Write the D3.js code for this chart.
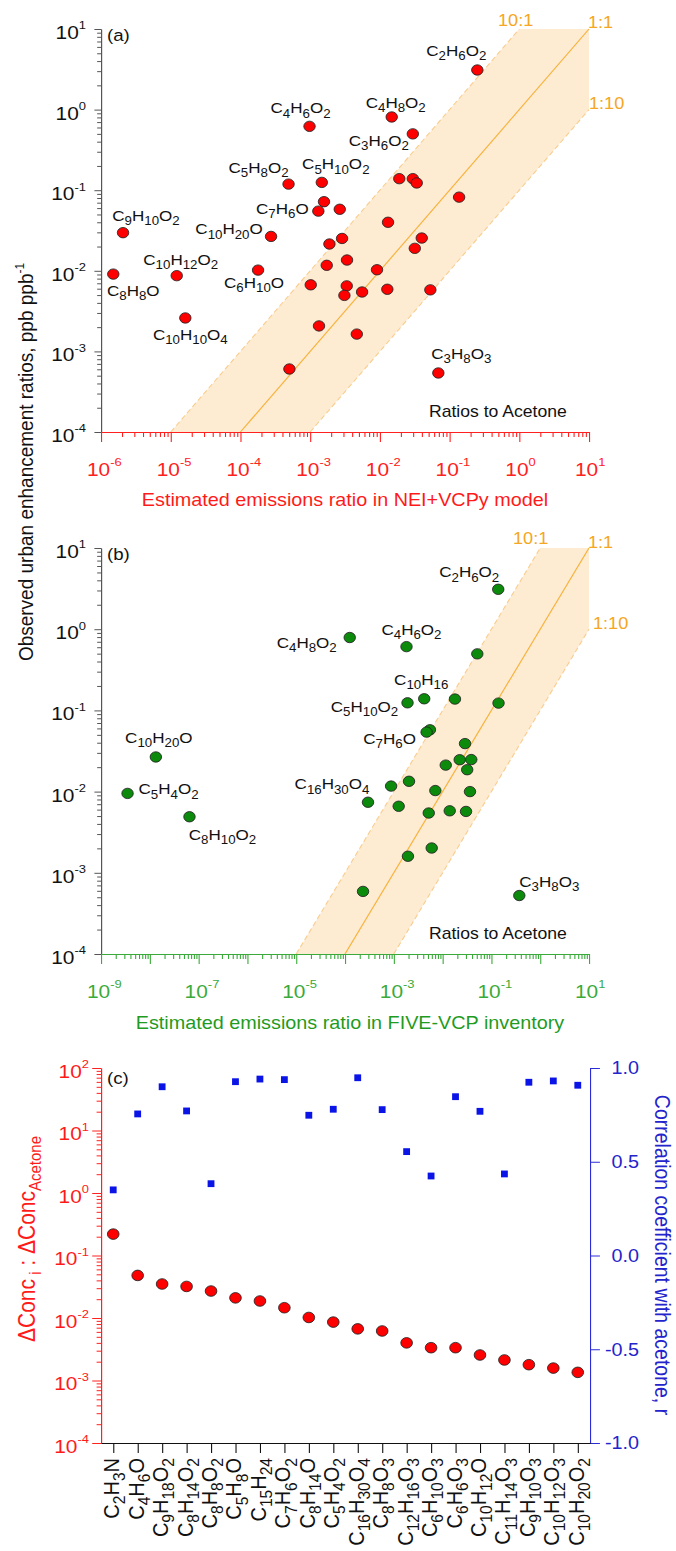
<!DOCTYPE html>
<html>
<head>
<meta charset="utf-8">
<script src="https://cdn.jsdelivr.net/npm/d3@7"></script>
<style>
  body { margin: 0; background: #fff; }
  svg text { font-family: "Liberation Sans", Arial, sans-serif; }
</style>
</head>
<body>
<svg id="chart" width="676" height="1551"></svg>
<script>
// ---- data ------------------------------------------------------------

// (a) NEI+VCPy model vs observed ratios to acetone
var namesA = ['C2H6O2', 'C4H8O2', 'C3H6O2', 'C4H6O2', 'C5H8O2', 'C5H10O2', '', '', '', '', '',
  'C7H6O', '', '', '', '', '', '', '', '', '', '', '', '', '', '', '', '', '', '',
  'C3H8O3', 'C9H10O2', 'C10H20O', 'C8H8O', 'C10H12O2', 'C6H10O', 'C10H10O4'];
var emisA = [0.25, 0.0148, 0.0297, 9.8e-4, 4.9e-4, 1.47e-3, 0.019, 0.0297, 0.0338, 0.137, 1.58e-3,
  1.31e-3, 2.66e-3, 0.0131, 2.87e-3, 1.89e-3, 0.0399, 0.0317, 3.38e-3, 1.73e-3, 9.1e-3, 1.02e-3,
  3.35e-3, 3.1e-3, 5.56e-3, 0.0128, 0.053, 1.34e-3, 4.67e-3, 5.04e-4,
  0.069, 2.07e-6, 2.75e-4, 1.5e-6, 1.22e-5, 1.79e-4, 1.62e-5];
var obsA = [3.1, 0.81, 0.50, 0.62, 0.119, 0.125, 0.139, 0.139, 0.123, 0.082, 0.072,
  0.055, 0.058, 0.040, 0.0252, 0.0215, 0.0255, 0.019, 0.0136, 0.0117, 0.0103, 6.7e-3,
  6.5e-3, 4.95e-3, 5.46e-3, 5.9e-3, 5.8e-3, 2.07e-3, 1.64e-3, 6.05e-4,
  5.4e-4, 0.0297, 0.0267, 9.1e-3, 8.7e-3, 0.0102, 2.6e-3];

// (b) FIVE-VCP inventory vs observed ratios to acetone
var namesB = ['C2H6O2', 'C4H8O2', 'C4H6O2', '', 'C5H10O2', 'C10H16', '', '', '', 'C7H6O',
  '', '', '', '', '', '', '', '', '', 'C16H30O4', '', '', '', '', '', '', '',
  'C3H8O3', 'C10H20O', 'C5H4O2', 'C8H10O2'];
var emisB = [0.138, 1.25e-4, 1.82e-3, 0.0514, 1.91e-3, 4.2e-3, 0.0179, 0.14, 5.5e-3, 4.7e-3,
  0.0288, 0.0116, 0.0224, 0.0387, 0.0319, 8.8e-4, 2.05e-3, 7.1e-3, 0.0364, 2.96e-4, 1.26e-3,
  5.2e-3, 0.014, 0.0302, 5.98e-3, 1.95e-3, 2.34e-4, 0.373, 1.33e-8, 3.5e-9, 6.5e-8];
var obsB = [3.1, 0.79, 0.61, 0.497, 0.124, 0.139, 0.138, 0.123, 0.0577, 0.054,
  0.039, 0.0212, 0.0247, 0.0248, 0.0186, 0.0117, 0.0134, 0.0103, 0.01, 7.4e-3, 6.6e-3,
  5.45e-3, 5.8e-3, 5.7e-3, 2.02e-3, 1.6e-3, 5.9e-4, 5.25e-4, 0.0267, 9.5e-3, 4.9e-3];

// (c) enhancement ratio and correlation with acetone
var compoundsC = ['C2H3N', 'C4H6O', 'C9H18O2', 'C8H14O2', 'C8H8O2', 'C5H8O', 'C15H24', 'C7H6O2',
  'C8H14O', 'C5H4O2', 'C16H30O4', 'C8H8O3', 'C12H16O3', 'C6H10O3', 'C6H6O3', 'C10H12O',
  'C11H14O3', 'C9H10O3', 'C10H12O3', 'C10H20O2'];
var ratioC = [0.22, 0.048, 0.035, 0.032, 0.027, 0.021, 0.0187, 0.0146, 0.0102, 0.0086,
  0.0067, 0.0062, 0.0040, 0.00335, 0.00335, 0.00256, 0.00213, 0.00179, 0.00158, 0.00135];
var corrC = [0.35, 0.755, 0.90, 0.771, 0.383, 0.927, 0.941, 0.938, 0.748, 0.78,
  0.948, 0.778, 0.554, 0.424, 0.847, 0.769, 0.435, 0.924, 0.931, 0.908];

var ratioLines = [10, 1, 0.1];  // 10:1, 1:1, 1:10

// label offsets from their point, in screen px
var labelPosA = {
  C2H6O2: [-21, -14], C4H8O2: [4, -9], C3H6O2: [-34, 12], C4H6O2: [-9, -13],
  C5H8O2: [-30, -11], C5H10O2: [14, -13], C7H6O: [-36, 3], C9H10O2: [23, -12],
  C10H20O: [-42, -2], C10H12O2: [4, -11], C8H8O: [20, 22], C6H10O: [-4, 18],
  C10H10O4: [5, 22], C3H8O3: [23, -14]
};
var labelPosB = {
  C2H6O2: [-29, -12], C4H8O2: [-43, 10], C4H6O2: [5, -12], C10H16: [-3, -14],
  C5H10O2: [-43, 9], C7H6O: [-37, 12], C16H30O4: [-36, -13], C10H20O: [3, -14],
  C5H4O2: [41, 1], C8H10O2: [33, 23], C3H8O3: [30, -9]
};


/* ---
SETUP
--- */
// the original figure is stretched sideways; draw in narrower units and scale back
var STRETCH = 1.1;
function hx(v) { return v / STRETCH; }

var svg = d3.select('#chart');
var root = svg.append('g').attr('transform', 'scale(' + STRETCH + ',1)');

var ORANGE = '#f5a623';

function decadeValues(lo, hi) {
  var out = [];
  for (var e = lo; e <= hi; e++) out.push(Math.pow(10, e));
  return out;
}

function minorValues(lo, hi) {
  var out = [];
  for (var e = lo; e < hi; e++)
    for (var k = 2; k < 10; k++) out.push(k * Math.pow(10, e));
  return out;
}

// digits in a formula become subscripts
function formula(t, str, size) {
  var shifted = false;
  str.match(/[A-Za-z]+|\d+/g).forEach(function(p) {
    var s = t.append('tspan').text(p);
    if (/\d/.test(p)) {
      s.attr('font-size', size * 0.78);
      if (!shifted) s.attr('dy', size * 0.28);
      shifted = true;
    } else {
      s.attr('font-size', size);
      if (shifted) s.attr('dy', -size * 0.28);
      shifted = false;
    }
  });
}

function pow10(t, e, size) {
  t.append('tspan').text('10');
  t.append('tspan').attr('dy', -size * 0.5).attr('font-size', size * 0.62).text(e);
}

function logAxis(g, axisFn, scale, lo, hi, major, minor, color) {
  g.append('g').call(axisFn(scale).tickValues(minorValues(lo, hi))
    .tickSize(minor).tickSizeOuter(0).tickFormat(''));
  g.append('g').call(axisFn(scale).tickValues(decadeValues(lo, hi))
    .tickSize(major).tickSizeOuter(0).tickFormat(''));
  g.selectAll('path, line').attr('stroke', color);
}


/* -----------
SCATTER PANELS
----------- */
function drawScatter(p) {
  var g = root.append('g');
  var x = d3.scaleLog().domain([Math.pow(10, p.xLo), 10]).range([hx(101), hx(589)]);
  var y = d3.scaleLog().domain([1e-4, 10]).range([p.bottom, p.top]);
  var line = d3.line().x(function(d) { return x(d[0]); }).y(function(d) { return y(d[1]); });

  // shaded band between 10:1 and 1:10
  var band = [[1e-4 / 10, 1e-4], [10 / 10, 10], [10, 10], [10, 10 * 0.1], [1e-4 / 0.1, 1e-4]];
  g.append('path').datum(band).attr('d', line.curve(d3.curveLinearClosed)).attr('fill', '#fdebd2');
  line.curve(d3.curveLinear);

  ratioLines.forEach(function(k) {
    var pts = [[1e-4 / k, 1e-4], k >= 1 ? [10 / k, 10] : [10, 10 * k]];
    g.append('path').datum(pts).attr('d', line)
      .attr('fill', 'none')
      .attr('stroke', k === 1 ? '#f7b23b' : '#f9cc8c')
      .attr('stroke-width', k === 1 ? 1.1 : 1)
      .attr('stroke-dasharray', k === 1 ? null : '5,3');
  });

  // axes
  var ya = g.append('g').attr('transform', 'translate(' + hx(101) + ',0)');
  logAxis(ya, d3.axisLeft, y, -4, 1, 6, 3.5, '#555');
  var xa = g.append('g').attr('transform', 'translate(0,' + p.bottom + ')');
  logAxis(xa, d3.axisBottom, x, p.xLo, 1, 10, 5, p.axisColor);

  d3.range(-4, 2).forEach(function(e) {
    var t = g.append('text').attr('x', hx(86)).attr('y', y(Math.pow(10, e)) + 10)
      .attr('text-anchor', 'end').attr('font-size', 19).attr('fill', '#111');
    pow10(t, e, 19);
  });
  p.xLabels.forEach(function(e) {
    var t = g.append('text').attr('x', x(Math.pow(10, e)) - hx(14)).attr('y', p.bottom + 44)
      .attr('font-size', 19).attr('fill', p.axisColor);
    pow10(t, e, 19);
  });

  g.append('text').attr('x', hx(p.titleX)).attr('y', p.titleY)
    .attr('text-anchor', 'middle').attr('font-size', 18).attr('fill', p.titleColor)
    .text(p.title);

  g.append('text').attr('x', hx(107)).attr('y', p.top + 12)
    .attr('font-size', 17).attr('fill', '#111').text(p.letter);

  p.ratioText.forEach(function(r) {
    g.append('text').attr('x', hx(r[1])).attr('y', r[2])
      .attr('font-size', 16.5).attr('fill', ORANGE).text(r[0]);
  });

  g.append('text').attr('x', hx(429)).attr('y', p.bottom - 15)
    .attr('font-size', 16).attr('fill', '#111').text('Ratios to Acetone');

  // points
  g.append('g').selectAll('circle')
    .data(p.xs)
    .enter()
    .append('circle')
    .attr('cx', function(d) { return x(d); })
    .attr('cy', function(d, i) { return y(p.ys[i]); })
    .attr('r', 5.2)
    .attr('fill', p.pointColor)
    .attr('stroke', '#222')
    .attr('stroke-width', 0.8);

  p.names.forEach(function(name, i) {
    if (!name) return;
    var off = p.labelPos[name];
    var t = g.append('text')
      .attr('x', x(p.xs[i]) + hx(off[0]))
      .attr('y', y(p.ys[i]) + off[1])
      .attr('text-anchor', 'middle')
      .attr('fill', '#111');
    formula(t, name, 15.5);
  });
}

drawScatter({
  top: 29, bottom: 432, xLo: -6, xLabels: [-6, -5, -4, -3, -2, -1, 0, 1],
  xs: emisA, ys: obsA, names: namesA, labelPos: labelPosA,
  axisColor: '#ff2020', titleColor: '#ff1a1a', pointColor: '#ff0000',
  title: 'Estimated emissions ratio in NEI+VCPy model', titleX: 345, titleY: 506,
  letter: '(a)',
  ratioText: [['10:1', 498, 26], ['1:1', 588, 28], ['1:10', 589, 109]]
});

drawScatter({
  top: 548, bottom: 954, xLo: -9, xLabels: [-9, -7, -5, -3, -1, 1],
  xs: emisB, ys: obsB, names: namesB, labelPos: labelPosB,
  axisColor: '#3aaa3a', titleColor: '#1f9b1f', pointColor: '#0b8a0b',
  title: 'Estimated emissions ratio in FIVE-VCP inventory', titleX: 350, titleY: 1029,
  letter: '(b)',
  ratioText: [['10:1', 513, 544], ['1:1', 588, 548], ['1:10', 593, 629]]
});

// shared y title
var yTitle = root.append('text')
  .attr('transform', 'translate(' + hx(33) + ',462) rotate(-90)')
  .attr('text-anchor', 'middle').attr('font-size', 19).attr('fill', '#111');
yTitle.append('tspan').text('Observed urban enhancement ratios, ppb ppb');
yTitle.append('tspan').attr('dy', -8).attr('font-size', 12).text('-1');


/* ------
PANEL (c)
------ */
var gc = root.append('g');
var cTop = 1068, cBottom = 1443;
var xC = d3.scalePoint().domain(compoundsC).range([hx(101), hx(590)]).padding(0.5);
var yL = d3.scaleLog().domain([1e-4, 100]).range([cBottom, cTop]);
var yR = d3.scaleLinear().domain([-1, 1]).range([cBottom, cTop]);

var la = gc.append('g').attr('transform', 'translate(' + hx(101) + ',0)');
logAxis(la, d3.axisLeft, yL, -4, 2, 8, 4, '#ff2020');

gc.append('g').attr('transform', 'translate(' + hx(590) + ',0)')
  .call(d3.axisRight(yR).tickValues([-1, -0.5, 0, 0.5, 1]).tickSize(9).tickSizeOuter(0).tickFormat(''))
  .selectAll('path, line').attr('stroke', '#2a2ad6');

gc.append('g').attr('transform', 'translate(0,' + cBottom + ')')
  .call(d3.axisBottom(xC).tickSize(10).tickSizeOuter(0).tickFormat(''))
  .selectAll('path, line').attr('stroke', '#111');

d3.range(-4, 3).forEach(function(e) {
  var t = gc.append('text').attr('x', hx(89)).attr('y', yL(Math.pow(10, e)) + 10)
    .attr('text-anchor', 'end').attr('font-size', 19).attr('fill', '#ff1a1a');
  pow10(t, e, 19);
});

[-1, -0.5, 0, 0.5, 1].forEach(function(v) {
  gc.append('text').attr('x', hx(639)).attr('y', yR(v) + 6.5)
    .attr('text-anchor', 'end').attr('font-size', 18).attr('fill', '#2424cc')
    .text(d3.format('.1f')(v).replace('\u2212', '-'));
});

compoundsC.forEach(function(name) {
  var t = gc.append('text')
    .attr('transform', 'translate(' + (xC(name) + hx(6)) + ',1458) rotate(-90)')
    .attr('text-anchor', 'end').attr('fill', '#111');
  formula(t, name, 20);
});

gc.append('text').attr('x', hx(107)).attr('y', cTop + 16)
  .attr('font-size', 17).attr('fill', '#111').text('(c)');

var lt = gc.append('text')
  .attr('transform', 'translate(' + hx(35) + ',1239) rotate(-90)')
  .attr('text-anchor', 'middle').attr('font-size', 21).attr('fill', '#ff1a1a');
lt.append('tspan').text('\u0394Conc');
lt.append('tspan').attr('dy', 5).attr('font-size', 15).text(' i');
lt.append('tspan').attr('dy', -5).text(' : \u0394Conc');
lt.append('tspan').attr('dy', 5).attr('font-size', 15).text('Acetone');

gc.append('text')
  .attr('transform', 'translate(' + hx(655) + ',1255) rotate(90)')
  .attr('text-anchor', 'middle').attr('font-size', 19.5).attr('fill', '#2424cc')
  .text('Correlation coefficient with acetone, r');

gc.append('g').selectAll('rect')
  .data(corrC)
  .enter()
  .append('rect')
  .attr('x', function(d, i) { return xC(compoundsC[i]) - 3.1; })
  .attr('y', function(d) { return yR(d) - 3.4; })
  .attr('width', 6.2)
  .attr('height', 6.8)
  .attr('fill', '#0a14e6');

gc.append('g').selectAll('circle')
  .data(ratioC)
  .enter()
  .append('circle')
  .attr('cx', function(d, i) { return xC(compoundsC[i]); })
  .attr('cy', function(d) { return yL(d); })
  .attr('r', 5.3)
  .attr('fill', '#ff0000')
  .attr('stroke', '#222')
  .attr('stroke-width', 0.8);
</script>
</body>
</html>
